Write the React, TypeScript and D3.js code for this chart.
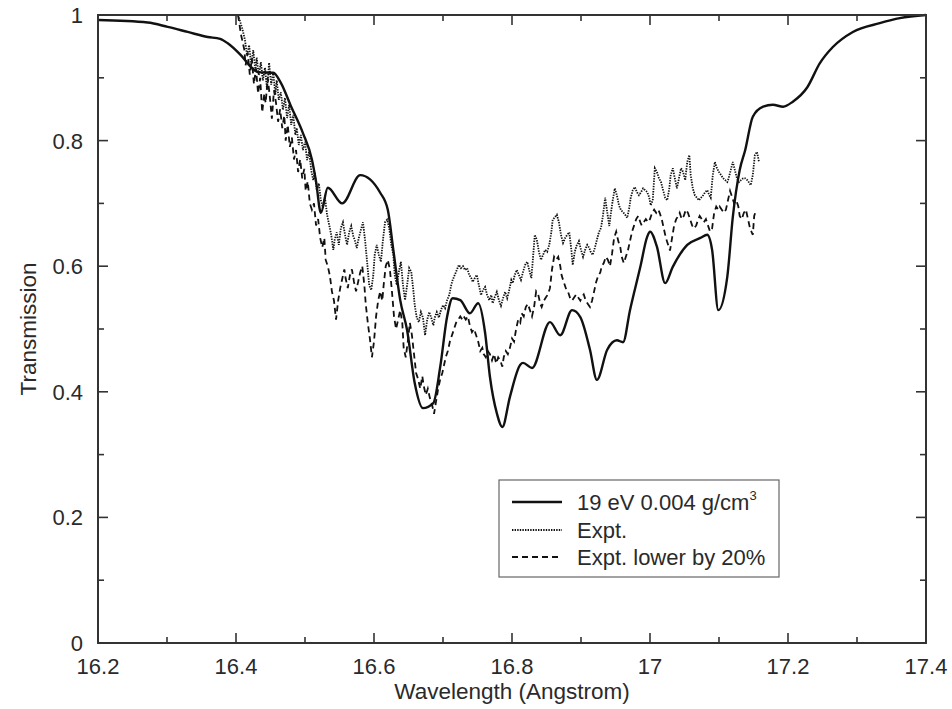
import React from "react";
import * as d3 from "d3";

const W = 952;
const H = 709;

// Model: 19 eV 0.004 g/cm3
const modelWavelength = [16.200,16.272,16.301,16.330,16.359,16.377,16.388,16.407,16.422,16.432,16.454,16.465,16.480,16.497,16.510,16.516,16.523,16.533,16.554,16.580,16.609,16.620,16.628,16.638,16.648,16.659,16.671,16.686,16.696,16.706,16.714,16.725,16.739,16.751,16.761,16.768,16.778,16.786,16.797,16.812,16.816,16.829,16.855,16.870,16.887,16.899,16.913,16.923,16.938,16.952,16.961,16.971,16.986,16.996,17.000,17.010,17.022,17.033,17.054,17.073,17.083,17.090,17.099,17.112,17.120,17.130,17.138,17.149,17.164,17.178,17.193,17.207,17.228,17.246,17.265,17.294,17.333,17.362,17.400];
const modelTransmission = [0.992,0.988,0.981,0.973,0.965,0.962,0.955,0.936,0.917,0.909,0.908,0.892,0.854,0.812,0.770,0.735,0.685,0.725,0.700,0.745,0.717,0.690,0.626,0.546,0.498,0.414,0.374,0.382,0.440,0.520,0.549,0.546,0.525,0.541,0.494,0.424,0.366,0.344,0.392,0.443,0.446,0.438,0.511,0.490,0.530,0.519,0.467,0.419,0.467,0.482,0.479,0.530,0.599,0.647,0.655,0.631,0.573,0.599,0.634,0.645,0.650,0.626,0.530,0.583,0.678,0.753,0.785,0.838,0.854,0.857,0.854,0.862,0.885,0.923,0.949,0.973,0.987,0.995,1.000];

// Expt.
const exptWavelength = [16.403,16.409,16.413,16.416,16.419,16.422,16.425,16.428,16.430,16.433,16.436,16.439,16.442,16.445,16.448,16.451,16.454,16.457,16.459,16.462,16.465,16.468,16.471,16.474,16.477,16.480,16.483,16.486,16.488,16.491,16.494,16.497,16.500,16.503,16.506,16.509,16.512,16.514,16.517,16.520,16.523,16.526,16.529,16.532,16.535,16.538,16.541,16.543,16.546,16.549,16.552,16.555,16.558,16.561,16.564,16.567,16.570,16.572,16.575,16.578,16.581,16.584,16.587,16.590,16.593,16.596,16.599,16.601,16.604,16.607,16.610,16.613,16.616,16.619,16.622,16.625,16.628,16.630,16.633,16.636,16.639,16.642,16.645,16.648,16.651,16.654,16.657,16.659,16.662,16.665,16.668,16.671,16.674,16.677,16.680,16.683,16.686,16.688,16.691,16.694,16.697,16.700,16.703,16.706,16.709,16.712,16.714,16.717,16.720,16.723,16.726,16.729,16.732,16.735,16.738,16.741,16.743,16.746,16.749,16.752,16.755,16.758,16.761,16.764,16.767,16.770,16.772,16.775,16.778,16.781,16.784,16.787,16.790,16.793,16.796,16.799,16.801,16.804,16.807,16.810,16.813,16.816,16.819,16.822,16.825,16.828,16.830,16.833,16.836,16.839,16.842,16.845,16.848,16.851,16.854,16.857,16.859,16.862,16.865,16.868,16.871,16.874,16.877,16.880,16.883,16.886,16.888,16.891,16.894,16.897,16.900,16.903,16.906,16.909,16.912,16.914,16.917,16.920,16.923,16.926,16.929,16.932,16.935,16.938,16.941,16.943,16.946,16.949,16.952,16.955,16.958,16.961,16.964,16.967,16.970,16.972,16.975,16.978,16.981,16.984,16.987,16.990,16.993,16.996,16.999,17.001,17.004,17.007,17.010,17.013,17.016,17.019,17.022,17.025,17.028,17.030,17.033,17.036,17.039,17.042,17.045,17.048,17.051,17.054,17.057,17.059,17.062,17.065,17.068,17.071,17.074,17.077,17.080,17.083,17.086,17.088,17.091,17.094,17.097,17.100,17.103,17.106,17.109,17.112,17.114,17.117,17.120,17.123,17.126,17.129,17.132,17.135,17.138,17.141,17.143,17.146,17.149,17.152,17.155,17.158];
const exptTransmission = [1.000,0.979,0.960,0.936,0.952,0.920,0.944,0.912,0.932,0.904,0.925,0.896,0.916,0.881,0.924,0.889,0.909,0.873,0.896,0.865,0.877,0.849,0.868,0.836,0.857,0.825,0.841,0.809,0.820,0.793,0.809,0.785,0.798,0.769,0.782,0.753,0.737,0.750,0.721,0.732,0.705,0.693,0.709,0.682,0.666,0.650,0.626,0.642,0.654,0.634,0.661,0.670,0.650,0.634,0.654,0.664,0.648,0.642,0.629,0.645,0.658,0.670,0.642,0.607,0.570,0.562,0.586,0.618,0.634,0.618,0.607,0.642,0.670,0.674,0.661,0.634,0.618,0.586,0.570,0.591,0.607,0.570,0.546,0.570,0.597,0.591,0.562,0.538,0.518,0.511,0.527,0.518,0.490,0.514,0.527,0.518,0.506,0.518,0.527,0.518,0.530,0.538,0.533,0.546,0.554,0.570,0.578,0.586,0.594,0.602,0.597,0.600,0.594,0.597,0.586,0.581,0.575,0.581,0.586,0.570,0.554,0.562,0.567,0.554,0.546,0.554,0.541,0.551,0.559,0.546,0.537,0.549,0.559,0.549,0.562,0.578,0.573,0.586,0.594,0.586,0.578,0.591,0.602,0.607,0.594,0.581,0.607,0.650,0.642,0.623,0.610,0.618,0.626,0.623,0.634,0.654,0.674,0.678,0.682,0.670,0.650,0.637,0.645,0.650,0.654,0.626,0.602,0.623,0.634,0.640,0.626,0.615,0.626,0.634,0.629,0.623,0.618,0.629,0.642,0.654,0.661,0.682,0.709,0.686,0.664,0.682,0.705,0.724,0.713,0.697,0.689,0.686,0.682,0.677,0.693,0.709,0.721,0.726,0.718,0.713,0.718,0.724,0.721,0.718,0.709,0.697,0.705,0.756,0.750,0.740,0.734,0.721,0.709,0.705,0.724,0.745,0.756,0.740,0.724,0.740,0.756,0.750,0.737,0.766,0.777,0.745,0.724,0.713,0.709,0.705,0.709,0.713,0.718,0.721,0.713,0.709,0.745,0.766,0.756,0.750,0.745,0.740,0.737,0.734,0.740,0.753,0.766,0.753,0.740,0.734,0.737,0.740,0.740,0.737,0.734,0.729,0.745,0.777,0.782,0.766];

// Expt. lower by 20%
const lowerWavelength = [16.403,16.407,16.412,16.414,16.417,16.420,16.423,16.426,16.429,16.432,16.435,16.438,16.441,16.443,16.446,16.449,16.452,16.455,16.458,16.461,16.464,16.467,16.470,16.472,16.475,16.478,16.481,16.484,16.487,16.490,16.493,16.496,16.499,16.501,16.504,16.507,16.510,16.513,16.516,16.519,16.522,16.525,16.528,16.530,16.533,16.536,16.539,16.542,16.545,16.548,16.551,16.554,16.557,16.559,16.562,16.565,16.568,16.571,16.574,16.577,16.580,16.583,16.586,16.588,16.591,16.594,16.597,16.600,16.603,16.606,16.609,16.612,16.614,16.617,16.620,16.623,16.626,16.629,16.632,16.635,16.638,16.641,16.643,16.646,16.649,16.652,16.655,16.658,16.661,16.664,16.667,16.670,16.672,16.675,16.678,16.681,16.684,16.687,16.690,16.693,16.696,16.699,16.701,16.704,16.707,16.710,16.713,16.716,16.719,16.722,16.725,16.728,16.730,16.733,16.736,16.739,16.742,16.745,16.748,16.751,16.754,16.757,16.759,16.762,16.765,16.768,16.771,16.774,16.777,16.780,16.783,16.786,16.788,16.791,16.794,16.797,16.800,16.803,16.806,16.809,16.812,16.814,16.817,16.820,16.823,16.826,16.829,16.832,16.835,16.838,16.841,16.843,16.846,16.849,16.852,16.855,16.858,16.861,16.864,16.867,16.870,16.872,16.875,16.878,16.881,16.884,16.887,16.890,16.893,16.896,16.899,16.901,16.904,16.907,16.910,16.913,16.916,16.919,16.922,16.925,16.928,16.930,16.933,16.936,16.939,16.942,16.945,16.948,16.951,16.954,16.957,16.959,16.962,16.965,16.968,16.971,16.974,16.977,16.980,16.983,16.986,16.988,16.991,16.994,16.997,17.000,17.003,17.006,17.009,17.012,17.014,17.017,17.020,17.023,17.026,17.029,17.032,17.035,17.038,17.041,17.043,17.046,17.049,17.052,17.055,17.058,17.061,17.064,17.067,17.070,17.072,17.075,17.078,17.081,17.084,17.087,17.090,17.093,17.096,17.099,17.101,17.104,17.107,17.110,17.113,17.116,17.119,17.122,17.125,17.128,17.130,17.133,17.136,17.139,17.142,17.145,17.149,17.151,17.154];
const lowerTransmission = [1.000,0.970,0.945,0.920,0.940,0.905,0.930,0.890,0.915,0.875,0.900,0.845,0.875,0.860,0.900,0.870,0.835,0.880,0.860,0.830,0.850,0.820,0.840,0.800,0.825,0.790,0.805,0.770,0.785,0.750,0.770,0.740,0.755,0.720,0.735,0.700,0.690,0.700,0.665,0.675,0.645,0.630,0.645,0.610,0.600,0.585,0.560,0.545,0.515,0.545,0.565,0.580,0.595,0.580,0.565,0.585,0.595,0.575,0.560,0.575,0.590,0.600,0.570,0.540,0.510,0.485,0.455,0.480,0.520,0.545,0.560,0.545,0.570,0.600,0.610,0.595,0.560,0.520,0.500,0.515,0.530,0.510,0.470,0.455,0.480,0.510,0.490,0.460,0.430,0.420,0.405,0.425,0.410,0.395,0.405,0.390,0.380,0.365,0.385,0.405,0.420,0.430,0.440,0.455,0.465,0.480,0.490,0.500,0.510,0.515,0.520,0.515,0.520,0.515,0.520,0.505,0.495,0.500,0.490,0.480,0.465,0.470,0.460,0.455,0.465,0.460,0.450,0.460,0.445,0.455,0.450,0.440,0.455,0.465,0.460,0.470,0.485,0.480,0.500,0.515,0.510,0.525,0.520,0.535,0.540,0.530,0.520,0.535,0.560,0.555,0.540,0.535,0.545,0.550,0.555,0.565,0.595,0.615,0.610,0.615,0.600,0.585,0.575,0.565,0.560,0.550,0.545,0.550,0.555,0.550,0.545,0.550,0.555,0.545,0.540,0.535,0.545,0.560,0.575,0.585,0.590,0.600,0.605,0.615,0.610,0.600,0.620,0.645,0.655,0.640,0.630,0.615,0.605,0.615,0.625,0.640,0.655,0.665,0.675,0.680,0.670,0.665,0.670,0.675,0.670,0.675,0.685,0.690,0.685,0.690,0.685,0.675,0.660,0.645,0.635,0.625,0.645,0.665,0.675,0.680,0.685,0.675,0.680,0.690,0.685,0.675,0.665,0.660,0.665,0.675,0.680,0.675,0.670,0.675,0.665,0.655,0.660,0.685,0.695,0.690,0.695,0.690,0.685,0.690,0.705,0.720,0.710,0.700,0.705,0.695,0.680,0.675,0.685,0.690,0.675,0.660,0.650,0.680,0.690];

const xMajorTicks = [16.2, 16.4, 16.6, 16.8, 17.0, 17.2, 17.4];
const xTickLabels = ["16.2", "16.4", "16.6", "16.8", "17", "17.2", "17.4"];
const xMinorTicks = [16.3, 16.5, 16.7, 16.9, 17.1, 17.3];
const yMajorTicks = [0, 0.2, 0.4, 0.6, 0.8, 1];
const yTickLabels = ["0", "0.2", "0.4", "0.6", "0.8", "1"];
const yMinorTicks = [0.1, 0.3, 0.5, 0.7, 0.9];

const legendLabels = ["19 eV 0.004 g/cm", "Expt.", "Expt. lower by 20%"];

type Pt = [number, number];
function pairs(xs: number[], ys: number[]): Pt[] {
  const n = Math.min(xs.length, ys.length);
  const out: Pt[] = [];
  for (let i = 0; i < n; i++) out.push([xs[i], ys[i]]);
  return out;
}

export default function App() {
  const left = 98, right = 926, top = 15, bottom = 643;
  const x = d3.scaleLinear().domain([16.2, 17.4]).range([left, right]);
  const y = d3.scaleLinear().domain([0, 1]).range([bottom, top]);

  const smooth = d3.line<Pt>().x(d => x(d[0])).y(d => y(d[1])).curve(d3.curveMonotoneX);
  const jagged = d3.line<Pt>().x(d => x(d[0])).y(d => y(d[1])).curve(d3.curveLinear);

  const model = pairs(modelWavelength, modelTransmission);
  const expt = pairs(exptWavelength, exptTransmission);
  const lower = pairs(lowerWavelength, lowerTransmission);

  const axisColor = "#333";
  const textColor = "#2a2a2a";
  const font = "'Liberation Sans', Arial, sans-serif";
  const majorLen = 10, minorLen = 6;

  const legX = 499, legY = 480, legW = 280, legH = 97;
  const rowY = [502, 530, 557];
  const dashes = [undefined, "1.4,1.2", "6,4"];
  const widths = [2.4, 1.8, 1.8];

  return (
    <svg width={W} height={H} style={{ position: "absolute", left: 0, top: 0, background: "#fff" }}>
      <rect x={0} y={0} width={W} height={H} fill="#fff" />
      {/* data lines */}
      <path d={jagged(expt) || ""} fill="none" stroke="#111" strokeWidth={1.8} strokeDasharray="1.4,1.2" />
      <path d={jagged(lower) || ""} fill="none" stroke="#111" strokeWidth={1.8} strokeDasharray="6,4" />
      <path d={smooth(model) || ""} fill="none" stroke="#111" strokeWidth={2.4} />

      {/* frame */}
      <rect x={left} y={top} width={right - left} height={bottom - top} fill="none" stroke={axisColor} strokeWidth={2} />

      {/* x ticks */}
      {xMajorTicks.map((t, i) => (
        <g key={"xM" + i}>
          <line x1={x(t)} x2={x(t)} y1={bottom} y2={bottom - majorLen} stroke={axisColor} strokeWidth={1.6} />
          <line x1={x(t)} x2={x(t)} y1={top} y2={top + majorLen} stroke={axisColor} strokeWidth={1.6} />
          <text x={x(t)} y={bottom + 31} textAnchor="middle" fontFamily={font} fontSize={22} fill={textColor}>{xTickLabels[i]}</text>
        </g>
      ))}
      {xMinorTicks.map((t, i) => (
        <g key={"xm" + i}>
          <line x1={x(t)} x2={x(t)} y1={bottom} y2={bottom - minorLen} stroke={axisColor} strokeWidth={1.6} />
          <line x1={x(t)} x2={x(t)} y1={top} y2={top + minorLen} stroke={axisColor} strokeWidth={1.6} />
        </g>
      ))}

      {/* y ticks */}
      {yMajorTicks.map((t, i) => (
        <g key={"yM" + i}>
          <line x1={left} x2={left + majorLen} y1={y(t)} y2={y(t)} stroke={axisColor} strokeWidth={1.6} />
          <line x1={right} x2={right - majorLen} y1={y(t)} y2={y(t)} stroke={axisColor} strokeWidth={1.6} />
          <text x={left - 15} y={y(t)} dy="0.36em" textAnchor="end" fontFamily={font} fontSize={22} fill={textColor}>{yTickLabels[i]}</text>
        </g>
      ))}
      {yMinorTicks.map((t, i) => (
        <g key={"ym" + i}>
          <line x1={left} x2={left + minorLen} y1={y(t)} y2={y(t)} stroke={axisColor} strokeWidth={1.6} />
          <line x1={right} x2={right - minorLen} y1={y(t)} y2={y(t)} stroke={axisColor} strokeWidth={1.6} />
        </g>
      ))}

      {/* axis titles */}
      <text x={(left + right) / 2} y={699} textAnchor="middle" fontFamily={font} fontSize={22.5} fill={textColor}>Wavelength (Angstrom)</text>
      <text transform={`translate(36, ${(top + bottom) / 2}) rotate(-90)`} textAnchor="middle" fontFamily={font} fontSize={22.5} fill={textColor}>Transmission</text>

      {/* legend */}
      <rect x={legX} y={legY} width={legW} height={legH} fill="#fff" stroke="#666" strokeWidth={1.2} />
      {legendLabels.map((lab, i) => (
        <g key={"lg" + i}>
          <line x1={512} x2={562} y1={rowY[i]} y2={rowY[i]} stroke="#111" strokeWidth={widths[i]} strokeDasharray={dashes[i]} />
          <text x={577} y={rowY[i]} dy="0.36em" fontFamily={font} fontSize={22} fill={textColor}>
            {lab}
            {i === 0 ? <tspan dy="-10" fontSize={13}>3</tspan> : null}
          </text>
        </g>
      ))}
    </svg>
  );
}
